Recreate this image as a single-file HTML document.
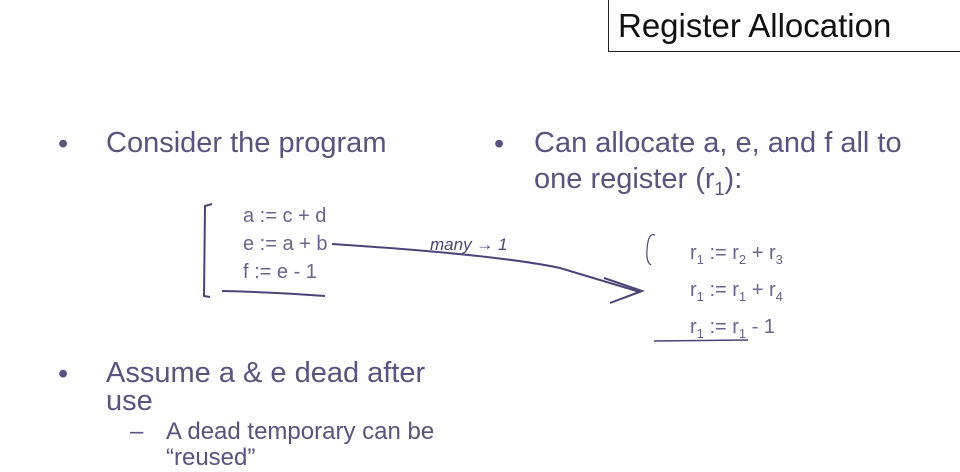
<!DOCTYPE html>
<html><head><meta charset="utf-8"><style>
body{margin:0;width:960px;height:459px;background:#fff;position:relative;overflow:hidden;font-family:"Liberation Sans","DejaVu Sans",sans-serif;color:#5a5280}
.t{position:absolute;white-space:nowrap}
.big{font-size:29px}
.code{font-size:20px;color:#6a6490}
.code sub{font-size:13px}
</style></head><body>
<div style="position:absolute;left:608px;top:0;width:352px;height:52px;border-left:1px solid #222;border-bottom:1px solid #222;box-sizing:border-box"></div>
<div class="t" style="left:618px;top:7px;font-size:33px;color:#111">Register Allocation</div>
<div class="t big" style="left:58px;top:128px">•</div>
<div class="t big" style="left:106px;top:127px">Consider the program</div>
<div class="t big" style="left:494px;top:128px">•</div>
<div class="t big" style="left:534px;top:127px">Can allocate a, e, and f all to</div>
<div class="t big" style="left:534px;top:163px">one register (r<sub style="font-size:18px">1</sub>):</div>
<div class="t big" style="left:58px;top:358px">•</div>
<div class="t big" style="left:106px;top:357px">Assume a &amp; e dead after</div>
<div class="t big" style="left:106px;top:385px">use</div>
<div class="t" style="left:130px;top:418px;font-size:24px">–</div>
<div class="t" style="left:166px;top:418px;font-size:24px">A dead temporary can be</div>
<div class="t" style="left:166px;top:444px;font-size:24px">“reused”</div>
<div class="t code" style="left:243px;top:202px;line-height:28px">a := c + d<br>e := a + b<br>f := e - 1</div>
<div class="t code" style="left:690px;top:238px;line-height:30px">r<sub>1</sub> := r<sub>2</sub> + r<sub>3</sub><br>r<sub>1</sub> := r<sub>1</sub> + r<sub>4</sub><br>r<sub>1</sub> := r<sub>1</sub> - 1</div>
<svg width="960" height="459" style="position:absolute;left:0;top:0" fill="none" stroke="#4a4478" stroke-width="2">
<path d="M212 204 L205 206 L204 296 L210 297"/>
<path d="M222 291 Q270 292 325 296"/>
<path d="M332 244 Q500 255 560 268 Q610 283 640 292"/>
<path d="M604 278 L642 291 L610 303"/>
<path d="M655 235 Q648 232 647 250 Q646 262 651 265" stroke-width="1.2"/>
<path d="M654 341 L748 340" stroke-width="1.5"/>
<text x="430" y="250" font-family="Liberation Sans" font-size="17" fill="#4a4478" stroke="none" font-style="italic">many → 1</text>
</svg>
</body></html>
